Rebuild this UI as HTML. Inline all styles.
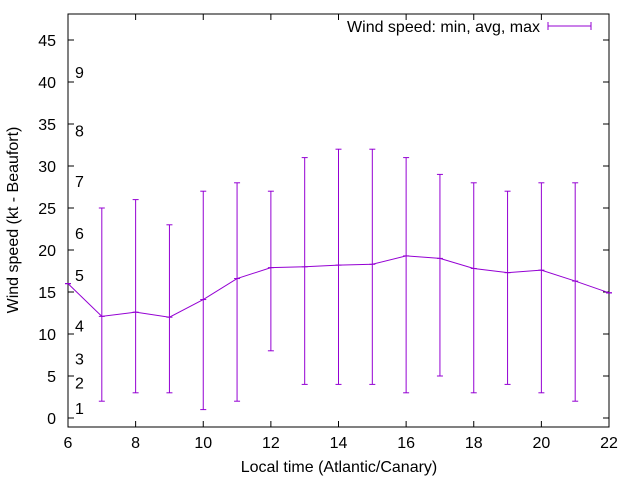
<!DOCTYPE html>
<html><head><meta charset="utf-8"><style>
body{margin:0;background:#fff;}
svg text{font-family:"Liberation Sans",sans-serif;font-size:16px;fill:#000;}
</style></head><body>
<svg width="640" height="480" id="c">
<rect x="68" y="14" width="541" height="413" fill="none" stroke="#000"/>
<g id="axes"></g><g id="marks"></g>
<text x="339" y="472" text-anchor="middle">Local time (Atlantic/Canary)</text>
<text transform="translate(18,220) rotate(-90)" text-anchor="middle">Wind speed (kt - Beaufort)</text>
<g>
<text x="540" y="32" text-anchor="end">Wind speed: min, avg, max</text>
<line x1="548" y1="26" x2="591" y2="26" stroke="#9400d3"/>
<line x1="548" y1="22" x2="548" y2="30" stroke="#9400d3"/>
<line x1="591" y1="22" x2="591" y2="30" stroke="#9400d3"/>
</g>
</svg>
<script>
const hours=[6,7,8,9,10,11,12,13,14,15,16,17,18,19,20,21,22];
const avgSpeed=[16,12.1,12.6,12.0,14.1,16.6,17.9,18.0,18.2,18.3,19.3,19.0,17.8,17.3,17.6,16.3,14.9];
const minSpeed=[16,2,3,3,1,2,8,4,4,4,3,5,3,4,3,2,14.9];
const maxSpeed=[16,25,26,23,27,28,27,31,32,32,31,29,28,27,28,28,14.9];
const xTicks=[6,8,10,12,14,16,18,20,22];
const yTicks=[0,5,10,15,20,25,30,35,40,45];
const beaufortLevels=[1,2,3,4,5,6,7,8,9];
const beaufortKt=[1.2,4.2,7.1,11.0,17.0,22.0,28.2,34.2,41.2];
const X=v=>68+(v-6)*(541/16);
const Y=v=>418-v*8.4;
const NS="http://www.w3.org/2000/svg";
const axes=document.getElementById('axes'),marks=document.getElementById('marks');
function mk(t,a,p){const e=document.createElementNS(NS,t);for(const k in a)e.setAttribute(k,a[k]);p.appendChild(e);return e;}
xTicks.forEach(t=>{
 const l=mk('line',{x1:X(t),x2:X(t),y1:427,y2:421,stroke:'#000'},axes);
 
 
 mk('line',{x1:X(t),x2:X(t),y1:14,y2:20,stroke:'#000'},axes);
 const tx=mk('text',{x:X(t),y:448,'text-anchor':'middle'},axes);tx.textContent=t;
 
 
});
yTicks.forEach(t=>{
 const l=mk('line',{x1:68,x2:74,y1:Y(t),y2:Y(t),stroke:'#000'},axes);
 
 
 mk('line',{x1:609,x2:603,y1:Y(t),y2:Y(t),stroke:'#000'},axes);
 const tx=mk('text',{x:56,y:Y(t)+6,'text-anchor':'end'},axes);tx.textContent=t;
 
 
});
beaufortLevels.forEach((b,i)=>{
 const tx=mk('text',{x:75,y:Y(beaufortKt[i])+6},axes);tx.textContent=b;
 
 
});
const col='#9400d3';
hours.forEach((h,i)=>{
 const g=mk('g',{stroke:col},marks);
 
 
 mk('line',{x1:X(h),x2:X(h),y1:Y(minSpeed[i]),y2:Y(maxSpeed[i])},g);
 mk('line',{x1:X(h)-3,x2:X(h)+3,y1:Y(minSpeed[i]),y2:Y(minSpeed[i])},g);
 mk('line',{x1:X(h)-3,x2:X(h)+3,y1:Y(maxSpeed[i]),y2:Y(maxSpeed[i])},g);
 mk('line',{x1:X(h)-3,x2:X(h)+3,y1:Y(avgSpeed[i]),y2:Y(avgSpeed[i])},g);
});
const p=mk('polyline',{points:hours.map((h,i)=>X(h)+','+Y(avgSpeed[i])).join(' '),fill:'none',stroke:col},marks);


</script>
</body></html>
